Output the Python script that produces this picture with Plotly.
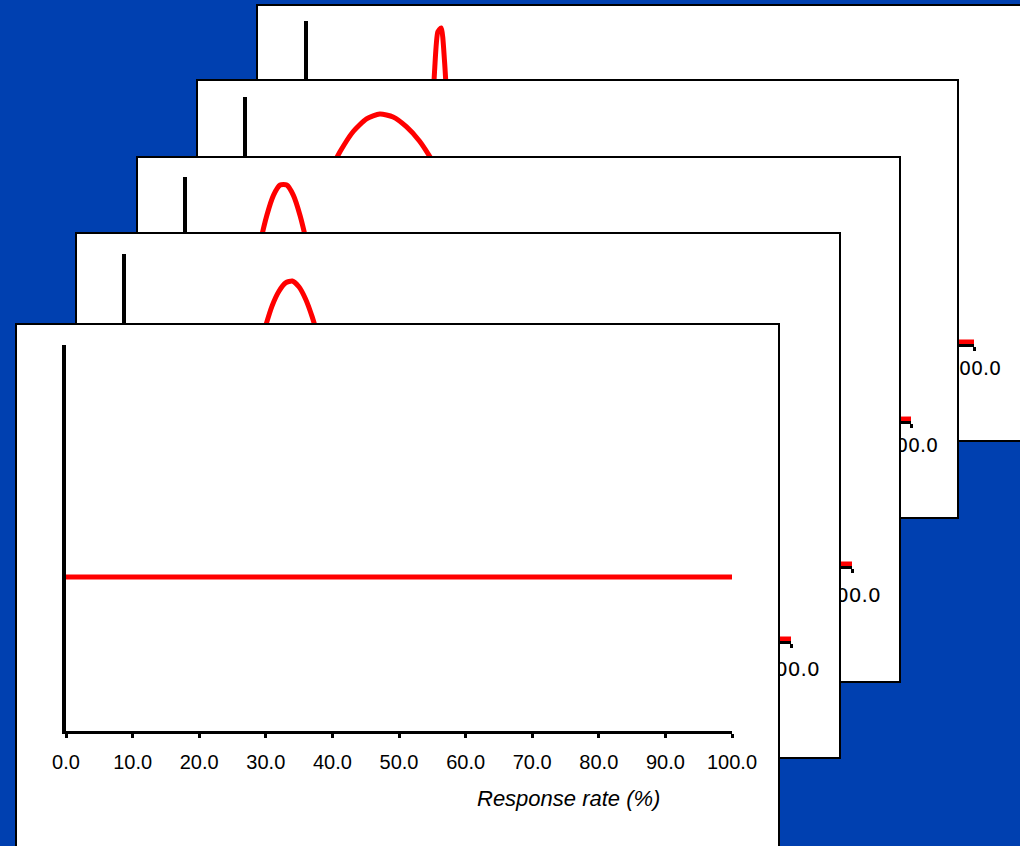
import plotly.graph_objects as go

W, H = 1020, 846

# ---------------- data ----------------
tick_values = [0, 10, 20, 30, 40, 50, 60, 70, 80, 90, 100]
tick_labels = ["0.0", "10.0", "20.0", "30.0", "40.0", "50.0", "60.0", "70.0", "80.0", "90.0", "100.0"]
axis_title = "Response rate (%)"

# back-most panel (5) -> front panel (1): response rate (%) vs posterior density
p5_rate = [0, 14, 15, 16, 17, 18, 18.5, 19, 19.5, 20, 20.5, 21, 21.5, 22, 23, 24, 25, 26, 100]
p5_density = [0, 0, 0.09, 0.78, 4.02, 12.58, 18.48, 23.97, 27.48, 27.82, 24.88, 19.66, 13.72, 8.46,
              2.21, 0.35, 0.03, 0, 0]

p4_rate = [0, 2, 4, 6, 8, 10, 12, 14, 16, 18, 20, 22, 24, 26, 28, 30, 33, 36, 40, 45, 50, 55, 60, 70, 100]
p4_density = [0, 0.6, 1.24, 1.54, 1.86, 2.18, 2.48, 2.75, 2.96, 3.09, 3.14, 3.11, 3.01, 2.86, 2.65,
              2.41, 2.00, 1.59, 1.08, 0.59, 0.28, 0.12, 0.04, 0, 0]

p3_rate = [0, 2, 4, 6, 8, 10, 11, 12, 13, 14, 15, 16, 17, 18, 19, 20, 22, 24, 26, 28, 30, 33, 36, 40, 100]
p3_density = [0, 0.6, 1.43, 2.43, 3.68, 5.00, 5.59, 6.07, 6.42, 6.60, 6.60, 6.42, 6.07, 5.59, 5.00,
              4.35, 3.03, 1.89, 1.06, 0.53, 0.24, 0.06, 0.01, 0, 0]

p2_rate = [0, 5, 8, 10, 12, 14, 16, 18, 20, 21, 22, 23, 24, 25, 26, 27, 28, 29, 30, 32, 34, 36, 38, 40,
           43, 46, 50, 60, 100]
p2_density = [0.01, 0.13, 0.36, 0.67, 1.15, 1.82, 2.66, 3.60, 4.50, 4.88, 5.20, 5.42, 5.55, 5.58, 5.49,
              5.30, 5.02, 4.66, 4.24, 3.31, 2.39, 1.60, 0.99, 0.57, 0.21, 0.07, 0.01, 0, 0]

p1_rate = [0, 100]
p1_density = [1, 1]

curves = [(p5_rate, p5_density), (p4_rate, p4_density), (p3_rate, p3_density),
          (p2_rate, p2_density), (p1_rate, p1_density)]

# ---------------- layout geometry (pixels) ----------------
BLUE = "#0040B0"
RED = "#FF0000"
FRONT_FONT = "Liberation Sans, Arial, sans-serif"
BACK_FONT = "DejaVu Sans, Verdana, sans-serif"

# white panels: border centre lines (None = runs off the image)
panels = [
    dict(l=257, r=None, t=5, b=441),
    dict(l=197, r=958, t=80, b=518),
    dict(l=137, r=900, t=157, b=682),
    dict(l=76, r=840, t=233, b=758),
    dict(l=16, r=779, t=324, b=None),
]
# plot areas inside each panel
plots = [
    dict(l=308, r=974, t=21, b=344, yr=[-0.18, 28.44], fam=BACK_FONT, fs=19, so=1),
    dict(l=247, r=911, t=97, b=421, yr=[-0.021, 3.315], fam=BACK_FONT, fs=19, so=1),
    dict(l=187, r=852, t=177, b=566, yr=[-0.035, 6.74], fam=BACK_FONT, fs=20, so=5),
    dict(l=126, r=791, t=254, b=641, yr=[-0.031, 6.0], fam=BACK_FONT, fs=20, so=4),
    dict(l=66, r=732, t=345, b=731, yr=[-0.012, 2.526], fam=FRONT_FONT, fs=20, so=7),
]


def fx(px):
    return px / W


def fy(py):
    return 1 - py / H


fig = go.Figure()
layout = dict(
    template="none",
    width=W, height=H, autosize=False,
    margin=dict(l=0, r=0, t=0, b=0, pad=0, autoexpand=False),
    paper_bgcolor=BLUE, plot_bgcolor="white",
    showlegend=False,
)

n = 0
for i in range(5):
    p = panels[i]
    q = plots[i]
    # ---- panel subplot (white card with black border)
    n += 1
    xs = "" if n == 1 else str(n)
    xd = [fx(p["l"] + 1), fx(p["r"] - 1) if p["r"] is not None else 1.0]
    yd = [fy(p["b"] - 1) if p["b"] is not None else 0.0, fy(p["t"] + 1)]
    layout["xaxis" + xs] = dict(
        domain=xd, range=[0, 1], anchor="y" + xs, showline=True, linecolor="black", linewidth=2,
        mirror=(p["b"] is not None), side=("bottom" if p["b"] is not None else "top"),
        showgrid=False, zeroline=False, showticklabels=False, ticks="", fixedrange=True,
        automargin=False)
    layout["yaxis" + xs] = dict(
        domain=yd, range=[0, 1], anchor="x" + xs, showline=True, linecolor="black", linewidth=2,
        mirror=(p["r"] is not None), showgrid=False, zeroline=False, showticklabels=False,
        ticks="", fixedrange=True, automargin=False)
    fig.add_trace(go.Scatter(x=[], y=[], mode="lines", xaxis="x" + xs, yaxis="y" + xs,
                             hoverinfo="skip", showlegend=False))
    # ---- plot subplot
    n += 1
    xs = str(n)
    layout["xaxis" + xs] = dict(
        domain=[fx(q["l"]), fx(q["r"])], range=[0, 100], anchor="y" + xs,
        showline=True, linecolor="black", linewidth=3,
        ticks="outside", ticklen=4, tickwidth=3, tickcolor="black",
        tickvals=tick_values, ticktext=tick_labels,
        tickfont=dict(family=q["fam"], size=q["fs"], color="black"),
        ticklabelstandoff=q["so"],
        showgrid=False, zeroline=False, fixedrange=True, automargin=False)
    layout["yaxis" + xs] = dict(
        domain=[fy(q["b"]), fy(q["t"])], range=q["yr"], anchor="x" + xs,
        showline=True, linecolor="black", linewidth=4,
        showticklabels=False, ticks="", showgrid=False, zeroline=False, fixedrange=True,
        automargin=False)
    rate, dens = curves[i]
    fig.add_trace(go.Scatter(
        x=rate, y=dens, mode="lines",
        line=dict(color=RED, width=5, shape="spline", smoothing=0.6),
        xaxis="x" + xs, yaxis="y" + xs, hoverinfo="skip", showlegend=False))

layout["annotations"] = [dict(
    text="<i>" + axis_title + "</i>", x=fx(568), y=fy(798), xref="paper", yref="paper",
    xanchor="center", yanchor="middle", showarrow=False,
    font=dict(family=FRONT_FONT, size=22, color="black"))]

fig.update_layout(**layout)
fig.write_html(
    "out.html",
    config={"displayModeBar": False},
    post_script="document.body.style.margin='0';document.body.style.overflow='hidden';",
)
